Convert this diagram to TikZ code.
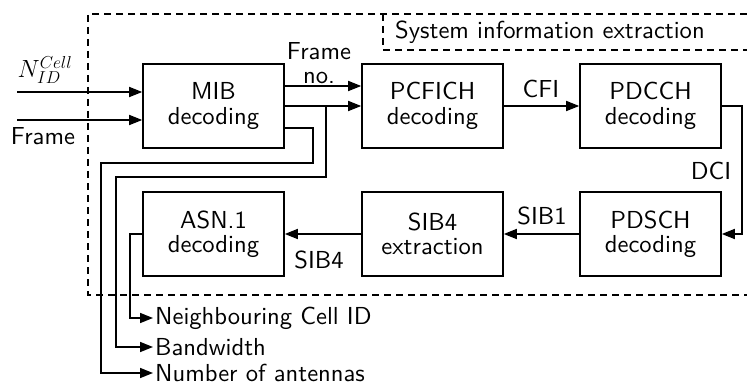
\documentclass[tikz,border=0pt]{standalone}
\usepackage{fontspec}
\newfontfamily\lmten{lmsans10-regular.otf}
\usetikzlibrary{arrows.meta}
\begin{document}
\begin{tikzpicture}[x=1pt,y=-1pt,
  every node/.style={font=\lmten\fontsize{24.6}{24.5}\selectfont},
  blk/.style={draw,line width=1.6pt,minimum width=141pt,minimum height=84pt,align=center,inner sep=0pt},
  lbl/.style={inner sep=2pt,align=center},
  arr/.style={line width=1.6pt,-{Triangle[length=13pt,width=10pt]}},
  dsh/.style={line width=1.3pt,dash pattern=on 7pt off 5pt}]
\useasboundingbox (0,0) rectangle (747,385);
% dashed frames
\draw[dsh] (747,14) -- (88,14) -- (88,295) -- (747,295);
\draw[dsh] (383,14) -- (383,50) -- (747,50);
\node[lbl,anchor=west] (title) at (393,32) {System information extraction};
% blocks
\node[blk] (mib) at (213.5,106) {MIB\\decoding};
\node[blk] (pcfich) at (432.5,106) {PCFICH\\decoding};
\node[blk] (pdcch) at (650.5,106) {PDCCH\\decoding};
\node[blk] (pdsch) at (650.5,234) {PDSCH\\decoding};
\node[blk] (sib4) at (432.5,234) {SIB4\\extraction};
\node[blk] (asn) at (213.5,234) {ASN.1\\decoding};
% inputs
\coordinate (nin) at (17,92);
\coordinate (fin) at (17,120);
\draw[arr] (nin) -- (nin -| mib.west);
\draw[arr] (fin) -- (fin -| mib.west);
\node[lbl] (nlab) at (45,70) {$N_{ID}^{Cell}$};
\node[lbl] (flab) at (43,136) {Frame};
% MIB -> PCFICH
\draw[arr] ([yshift=20pt]mib.east) -- ([yshift=20pt]pcfich.west);
\node[lbl] (fno) at (319,63) {Frame\\no.};
\draw[arr] (mib.east) -- (pcfich.west);
% chain
\draw[arr] (pcfich.east) -- (pdcch.west);
\node[lbl] (cfi) at (541,89) {CFI};
\coordinate (dc1) at (742,106);
\coordinate (dc2) at (742,234);
\draw[arr] (pdcch.east) -- (dc1) -- (dc2) -- (pdsch.east);
\node[lbl] (dci) at (711,171) {DCI};
\draw[arr] (pdsch.west) -- (sib4.east);
\node[lbl] (sib1l) at (542,216) {SIB1};
\draw[arr] (sib4.west) -- (asn.east);
\node[lbl] (sib4l) at (319,260) {SIB4};
% outputs
\node[lbl,anchor=west] (ncid) at (153,318) {Neighbouring Cell ID};
\node[lbl,anchor=west] (bw) at (153,347) {Bandwidth};
\node[lbl,anchor=west] (ant) at (153,373) {Number of antennas};
\coordinate (n1) at (130,234);
\draw[arr] (asn.west) -- (n1) -- (n1 |- ncid.west) -- (ncid.west);
\coordinate (b1) at (326,106);
\coordinate (b2) at (326,177);
\coordinate (b3) at (116,177);
\draw[arr] (b1) -- (b2) -- (b3) -- (b3 |- bw.west) -- (bw.west);
\coordinate (a0) at (284,128);
\coordinate (a1) at (313,128);
\coordinate (a2) at (313,163);
\coordinate (a3) at (101,163);
\draw[arr] (a0) -- (a1) -- (a2) -- (a3) -- (a3 |- ant.west) -- (ant.west);
\end{tikzpicture}
\end{document}
